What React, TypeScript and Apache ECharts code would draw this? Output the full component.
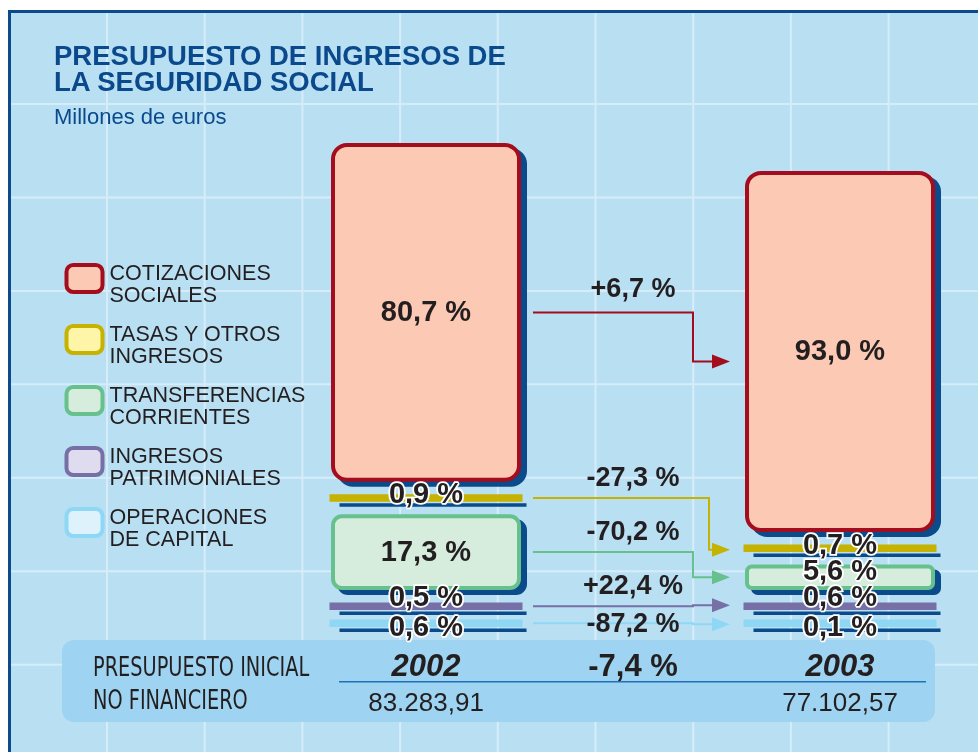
import React, { useEffect, useRef } from 'react';
import * as echarts from 'echarts';

// ---------- data ----------
const TITLE = 'PRESUPUESTO DE INGRESOS DE\nLA SEGURIDAD SOCIAL';
const SUBTITLE = 'Millones de euros';
const CATEGORY_NAMES = [
  'COTIZACIONES\nSOCIALES',
  'TASAS Y OTROS\nINGRESOS',
  'TRANSFERENCIAS\nCORRIENTES',
  'INGRESOS\nPATRIMONIALES',
  'OPERACIONES\nDE CAPITAL',
];
const YEARS = ['2002', '2003'];
const TOTALS = [83283.91, 77102.57]; // millones de euros
const PCT_2002 = [80.7, 0.9, 17.3, 0.5, 0.6];
const PCT_2003 = [93.0, 0.7, 5.6, 0.6, 0.1];
const CHANGES = [6.7, -27.3, -70.2, 22.4, -87.2];
const TOTAL_CHANGE = -7.4;
const FOOTER_LABEL = 'PRESUPUESTO INICIAL\nNO FINANCIERO';
const X_CATEGORIES = [YEARS[0], 'Variación', YEARS[1]];

// ---------- styles ----------
const FONT = '"Liberation Sans", Arial, Helvetica, sans-serif';
const NARROW = '"Liberation Sans Narrow", "Arial Narrow", "DejaVu Sans Condensed", sans-serif';
const STROKES = ['#a30d1d', '#c6b200', '#66c18c', '#7670a6', '#8ed8f5'];
const FILLS = ['#fcc9b4', '#fff5a8', '#d6ecdd', '#dedcee', '#def2fb'];
const SHADOW = '#0b4a8b';
const BG = '#b9dff3';
const GRIDLINE = '#d6edf9';
const PANEL = '#9ed4f1';
const DARK_BLUE = '#0a4a8c';
const TEXT = '#231f20';
const ELBOW_DX = [60, 76, 60, 60, 60];
const CHANGE_DY = [-24, -21, -21, -21, 0];
const ARROW_END_DY = [10, 1.5, 0, -1, 1];
const SMALL_LABEL_DY = [0, -4.5, -7, -10, 3];

const BORDER = 4;
const THIN_H = 7.5;
const THIN_LIMIT = 10;
const GAP_THIN = 9.5;
const GAP_BOX = 12.5;
const STACK_ORDER = [4, 3, 2, 1, 0];

const AMOUNTS = [PCT_2002, PCT_2003].map((p, j) => p.map((v) => (v / 100) * TOTALS[j]));

function fmtDec(v: number, d: number) {
  const [i, f] = Math.abs(v).toFixed(d).split('.');
  const int = i.replace(/\B(?=(\d{3})+(?!\d))/g, '.');
  return (v < 0 ? '-' : '') + int + (f ? ',' + f : '');
}
const fmtPct = (v: number) => fmtDec(v, 1) + ' %';
const fmtChange = (v: number) => (v > 0 ? '+' : '') + fmtDec(v, 1) + ' %';

type Seg = { top: number; bottom: number; thin: boolean; size: number };
function layoutColumn(amounts: number[], k: number, base: number): Seg[] {
  const out: Seg[] = [];
  let y = base;
  let prev: boolean | null = null;
  for (const idx of STACK_ORDER) {
    const size = amounts[idx] * k;
    const thin = size < THIN_LIMIT;
    if (prev !== null) y -= prev && thin ? GAP_THIN : GAP_BOX;
    const h = thin ? THIN_H : size + BORDER;
    out[idx] = { bottom: y, top: y - h, thin, size };
    y -= h;
    prev = thin;
  }
  return out;
}

function renderSegment(i: number, params: any, api: any) {
  const d = params.dataIndex; // 0 -> 2002, 1 -> 2003
  const base = api.coord([0, 0])[1];
  const k = api.size([0, 1000])[1] / 1000;
  const cols = [layoutColumn(AMOUNTS[0], k, base), layoutColumn(AMOUNTS[1], k, base)];
  const cx = api.coord([api.value(0), 0])[0];
  const seg = cols[d][i];
  const pct = api.value(2);
  const children: any[] = [];
  if (seg.thin) {
    children.push({
      type: 'rect', z2: 1,
      shape: { x: cx - 86.5, y: seg.bottom + 1.5, width: 187, height: 3.5 },
      style: { fill: SHADOW },
    });
    children.push({
      type: 'rect', z2: 2,
      shape: { x: cx - 96.5, y: seg.top, width: 193, height: THIN_H },
      style: { fill: STROKES[i] },
    });
  } else {
    const r = Math.min(14, 3 + seg.size / 12);
    children.push({
      type: 'rect', z2: 1,
      shape: { x: cx - 95 + 6, y: seg.top + 5, width: 190, height: seg.size + BORDER, r: r + 2 },
      style: { fill: SHADOW },
    });
    children.push({
      type: 'rect', z2: 2,
      shape: { x: cx - 93, y: seg.top + 2, width: 186, height: seg.size, r },
      style: { fill: FILLS[i], stroke: STROKES[i], lineWidth: BORDER },
    });
  }
  const midY = (seg.top + seg.bottom) / 2;
  const small = seg.bottom - seg.top < 32;
  const ly = small ? midY + SMALL_LABEL_DY[i] : midY - 1.5;
  children.push({
    type: 'text', z2: 100,
    style: {
      text: fmtPct(pct), x: cx, y: ly,
      align: 'center', verticalAlign: 'middle', textAlign: 'center', textVerticalAlign: 'middle',
      fill: TEXT, font: `bold 29px ${FONT}`,
      stroke: small ? '#ffffff' : null, lineWidth: small ? 3.5 : 0,
    },
  });
  if (d === 1) {
    const a = cols[0][i];
    const b = cols[1][i];
    const y0 = (a.top + a.bottom) / 2;
    const y1 = (b.top + b.bottom) / 2 + ARROW_END_DY[i];
    const cx0 = api.coord([0, 0])[0];
    const cxm = api.coord([1, 0])[0];
    const x0 = cx0 + 107;
    const tip = cx - 110;
    const elbow = cxm + ELBOW_DX[i];
    children.push({
      type: 'polyline', z2: 5,
      shape: { points: [[x0, y0], [elbow, y0], [elbow, y1], [tip - 16, y1]] },
      style: { stroke: STROKES[i], lineWidth: 2, fill: 'none' },
    });
    children.push({
      type: 'polygon', z2: 5,
      shape: { points: [[tip - 18, y1 - 7], [tip, y1], [tip - 18, y1 + 7]] },
      style: { fill: STROKES[i] },
    });
    children.push({
      type: 'text', z2: 100,
      style: {
        text: fmtChange(CHANGES[i]), x: cxm, y: y0 + CHANGE_DY[i],
        align: 'center', verticalAlign: 'middle', textAlign: 'center', textVerticalAlign: 'middle',
        fill: TEXT, font: `bold 27px ${FONT}`,
      },
    });
  }
  return { type: 'group', children };
}

function buildGraphics() {
  const g: any[] = [];
  g.push({
    type: 'rect', z: -10, silent: true,
    shape: { x: 9.5, y: 11.5, width: 1100, height: 900 },
    style: { fill: BG, stroke: SHADOW, lineWidth: 3 },
  });
  for (let n = 0; n < 9; n++) {
    const x = 107 + n * 97.7;
    g.push({ type: 'line', z: -9, silent: true, shape: { x1: x, y1: 13, x2: x, y2: 752 }, style: { stroke: GRIDLINE, lineWidth: 2 } });
  }
  for (let n = 0; n < 7; n++) {
    const y = 104 + n * 93.45;
    g.push({ type: 'line', z: -9, silent: true, shape: { x1: 11, y1: y, x2: 978, y2: y }, style: { stroke: GRIDLINE, lineWidth: 2 } });
  }
  g.push({
    type: 'rect', z: -8, silent: true,
    shape: { x: 62, y: 640, width: 873, height: 82, r: 12 },
    style: { fill: PANEL },
  });
  g.push({
    type: 'line', z: -7, silent: true,
    shape: { x1: 339, y1: 681.7, x2: 926, y2: 681.7 },
    style: { stroke: '#1f6fba', lineWidth: 1.5 },
  });
  g.push({
    type: 'text', z: 10, silent: true, x: 93, y: 683.2, scaleY: 1.26,
    style: {
      text: FOOTER_LABEL, fill: TEXT, font: `21.5px ${NARROW}`, lineHeight: 26.2,
      align: 'left', verticalAlign: 'middle', textAlign: 'left', textVerticalAlign: 'middle',
    },
  });
  return g;
}

export default function App() {
  const ref = useRef<HTMLDivElement>(null);
  useEffect(() => {
    if (!ref.current) return;
    const chart = echarts.init(ref.current, undefined, { renderer: 'svg' });
    const option: any = {
      animation: false,
      textStyle: { fontFamily: FONT },
      title: {
        text: TITLE,
        subtext: SUBTITLE,
        left: 54,
        top: 42,
        padding: 0,
        itemGap: 9,
        textStyle: { fontSize: 27.5, fontWeight: 'bold', color: DARK_BLUE, lineHeight: 26, fontFamily: FONT },
        subtextStyle: { fontSize: 22, color: DARK_BLUE, lineHeight: 22, fontFamily: FONT },
      },
      legend: {
        orient: 'vertical',
        left: 64.5,
        top: 251,
        padding: 0,
        itemGap: 6,
        itemWidth: 36,
        itemHeight: 27,
        icon: 'roundRect',
        selectedMode: false,
        formatter: (name: string) => {
          const [a, b] = name.split('\n');
          return `{s| }\n{t|${a}}\n{t|${b}}`;
        },
        textStyle: {
          fontSize: 21.5, color: TEXT, lineHeight: 22, fontFamily: FONT,
          rich: {
            s: { fontSize: 1, lineHeight: 11 },
            t: { fontSize: 21.5, lineHeight: 22, color: TEXT, fontFamily: FONT, padding: [0, 0, 0, 2] },
          },
        },
        data: CATEGORY_NAMES.map((name, i) => ({
          name,
          itemStyle: { color: FILLS[i], borderColor: STROKES[i], borderWidth: 4 },
        })),
      },
      grid: { left: 322.5, right: 34.5, top: 129, bottom: 125, containLabel: false, outerBoundsMode: 'none' },
      xAxis: {
        type: 'category',
        data: X_CATEGORIES,
        z: 5,
        axisLine: { show: false },
        axisTick: { show: false },
        splitLine: { show: false },
        axisLabel: {
          interval: 0,
          hideOverlap: false,
          margin: 20.5,
          formatter: (value: string, idx: number) =>
            idx === 1
              ? `{c|${fmtChange(TOTAL_CHANGE)}}`
              : `{y|${value}}\n{v|${fmtDec(TOTALS[idx === 0 ? 0 : 1], 2)}}`,
          rich: {
            y: { fontSize: 31, fontWeight: 'bold', fontStyle: 'italic', color: TEXT, lineHeight: 36, fontFamily: FONT },
            v: { fontSize: 26, color: TEXT, lineHeight: 36, fontFamily: FONT },
            c: { fontSize: 31, fontWeight: 'bold', color: TEXT, lineHeight: 36, fontFamily: FONT },
          },
        },
      },
      yAxis: {
        type: 'value',
        min: 0,
        max: 100000,
        show: false,
        splitLine: { show: false },
      },
      graphic: buildGraphics(),
      series: CATEGORY_NAMES.map((name, i) => ({
        type: 'custom',
        name,
        coordinateSystem: 'cartesian2d',
        clip: false,
        silent: true,
        itemStyle: { color: FILLS[i], borderColor: STROKES[i], borderWidth: 4 },
        encode: { x: 0, y: 1 },
        data: [
          [0, AMOUNTS[0][i], PCT_2002[i]],
          [2, AMOUNTS[1][i], PCT_2003[i]],
        ],
        renderItem: (params: any, api: any) => renderSegment(i, params, api),
      })),
    };
    chart.setOption(option);
    return () => chart.dispose();
  }, []);
  return (
    <div
      ref={ref}
      style={{ position: 'fixed', left: 0, top: 0, width: 978, height: 752 }}
    />
  );
}
